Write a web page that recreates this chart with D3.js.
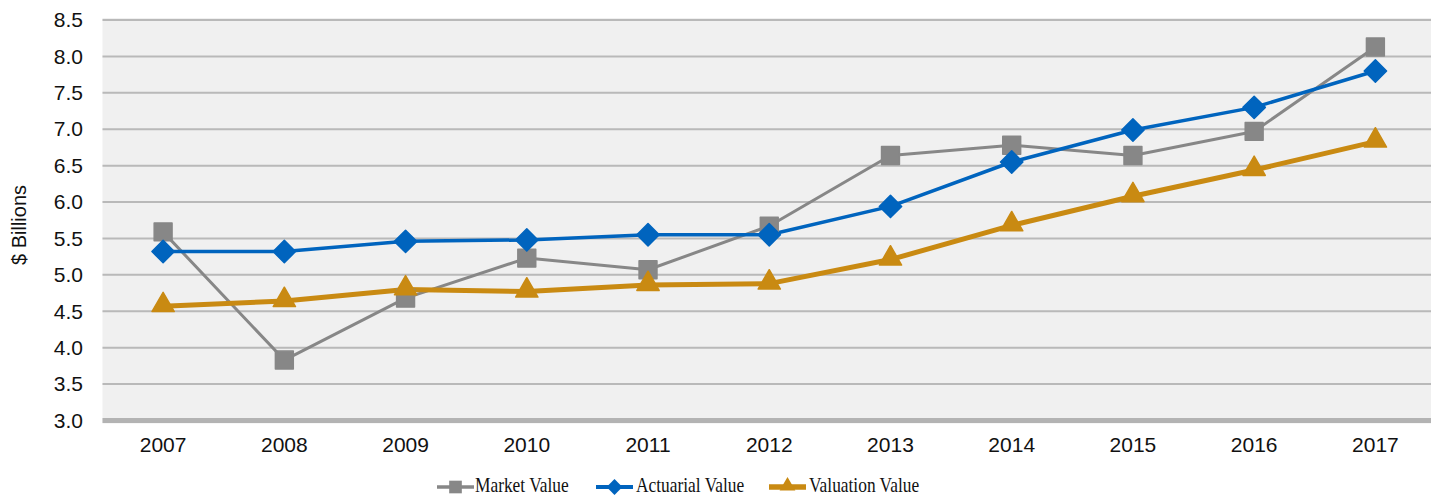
<!DOCTYPE html>
<html>
<head>
<meta charset="utf-8">
<script src="https://d3js.org/d3.v7.min.js"></script>
<style>
  body { margin: 0; background: #fff; }
  svg text { font-family: "Liberation Sans", Arial, sans-serif; fill: #111; }
  .legend text { font-family: "Liberation Serif", "DejaVu Serif", serif; }
</style>
</head>
<body>
<svg width="1431" height="498"></svg>
<script>
const years = ['2007','2008','2009','2010','2011','2012','2013','2014','2015','2016','2017'];
const marketValue    = [5.59, 3.83, 4.68, 5.23, 5.07, 5.67, 6.64, 6.78, 6.64, 6.97, 8.13];
const actuarialValue = [5.32, 5.32, 5.46, 5.48, 5.55, 5.55, 5.94, 6.55, 6.99, 7.30, 7.80];
const valuationValue = [4.57, 4.64, 4.80, 4.77, 4.86, 4.88, 5.21, 5.68, 6.08, 6.44, 6.83];
const yTicks = [3.0, 3.5, 4.0, 4.5, 5.0, 5.5, 6.0, 6.5, 7.0, 7.5, 8.0, 8.5];

const series = [
  {name: 'Market Value', values: marketValue, color: '#878787', width: 3, symbol: d3.symbolSquare, size: 320, rot: 0},
  {name: 'Actuarial Value', values: actuarialValue, color: '#0064BE', width: 3.5, symbol: d3.symbolSquare, size: 250, rot: 45},
  {name: 'Valuation Value', values: valuationValue, color: '#C98A12', width: 5, symbol: d3.symbolTriangle, size: 215, rot: 0}
];

const svg = d3.select('svg');
const mLeft = 102.5, mRight = 1436, mTop = 20, mBottom = 420.5;

const x = d3.scaleBand().domain(years).range([mLeft, mRight]);
const y = d3.scaleLinear().domain([3, 8.5]).range([mBottom, mTop]);

// plot background
svg.append('rect')
  .attr('x', mLeft).attr('y', mTop - 2)
  .attr('width', mRight - mLeft).attr('height', mBottom - mTop + 5)
  .attr('fill', '#f0f0f0');

// gridlines
svg.append('g').selectAll('line')
  .data(yTicks.filter(d => d > 3)).enter().append('line')
  .attr('x1', mLeft).attr('x2', mRight)
  .attr('y1', d => y(d)).attr('y2', d => y(d))
  .attr('stroke', '#b9b9b9').attr('stroke-width', 2);

// baseline
svg.append('line')
  .attr('x1', mLeft).attr('x2', mRight)
  .attr('y1', y(3)).attr('y2', y(3))
  .attr('stroke', '#b3b3b3').attr('stroke-width', 5);

// y axis
const yAxis = svg.append('g')
  .attr('transform', 'translate(83,0)')
  .call(d3.axisLeft(y).tickValues(yTicks).tickFormat(d3.format('.1f')).tickSize(0).tickPadding(0));
yAxis.select('.domain').remove();
yAxis.selectAll('text').attr('font-size', 21)
  .style('font-family', '"Liberation Sans", Arial, sans-serif').attr('fill', '#111');

svg.append('text')
  .attr('transform', 'translate(26,225) rotate(-90)')
  .attr('text-anchor', 'middle')
  .attr('font-size', 20)
  .text('$ Billions');

// x axis
const xAxis = svg.append('g')
  .attr('transform', 'translate(0,' + mBottom + ')')
  .call(d3.axisBottom(x).tickSize(0).tickPadding(17));
xAxis.select('.domain').remove();
xAxis.selectAll('text').attr('font-size', 21)
  .style('font-family', '"Liberation Sans", Arial, sans-serif').attr('fill', '#111');

const cx = d => x(d) + x.bandwidth() / 2;

// lines
series.forEach(s => {
  const line = d3.line().x((v, i) => cx(years[i])).y(v => y(v));
  svg.append('path')
    .datum(s.values)
    .attr('d', line)
    .attr('fill', 'none')
    .attr('stroke', s.color)
    .attr('stroke-width', s.width)
    .attr('stroke-linejoin', 'round');
});

// markers
series.forEach(s => {
  svg.append('g').selectAll('path')
    .data(s.values).enter().append('path')
    .attr('transform', (v, i) => {
      const dy = s.symbol === d3.symbolTriangle ? -1 : 0;
      return 'translate(' + cx(years[i]) + ',' + (y(v) + dy) + ') rotate(' + s.rot + ')';
    })
    .attr('d', d3.symbol().type(s.symbol).size(s.size))
    .attr('fill', s.color)
    .attr('stroke', s.color)
    .attr('stroke-width', 1.5)
    .attr('stroke-linejoin', 'round');
});

// legend
const legendX = [437, 596, 769];
const legend = svg.append('g').attr('class', 'legend');
series.forEach((s, i) => {
  const g = legend.append('g').attr('transform', 'translate(' + legendX[i] + ',487)');
  g.append('line').attr('x1', 0).attr('x2', 37).attr('y1', 0).attr('y2', 0)
    .attr('stroke', s.color).attr('stroke-width', s.width + 0.5);
  g.append('path')
    .attr('transform', 'translate(18.5,' + (s.symbol === d3.symbolTriangle ? -1 : 0) + ') rotate(' + s.rot + ')')
    .attr('d', d3.symbol().type(s.symbol).size(s.size * 0.5))
    .attr('fill', s.color);
  g.append('text')
    .attr('transform', 'translate(' + (i === 0 ? 38 : 40) + ',5) scale(0.79,1)')
    .attr('font-size', 22)
    .attr('fill', '#111')
    .text(s.name);
});
</script>
</body>
</html>
